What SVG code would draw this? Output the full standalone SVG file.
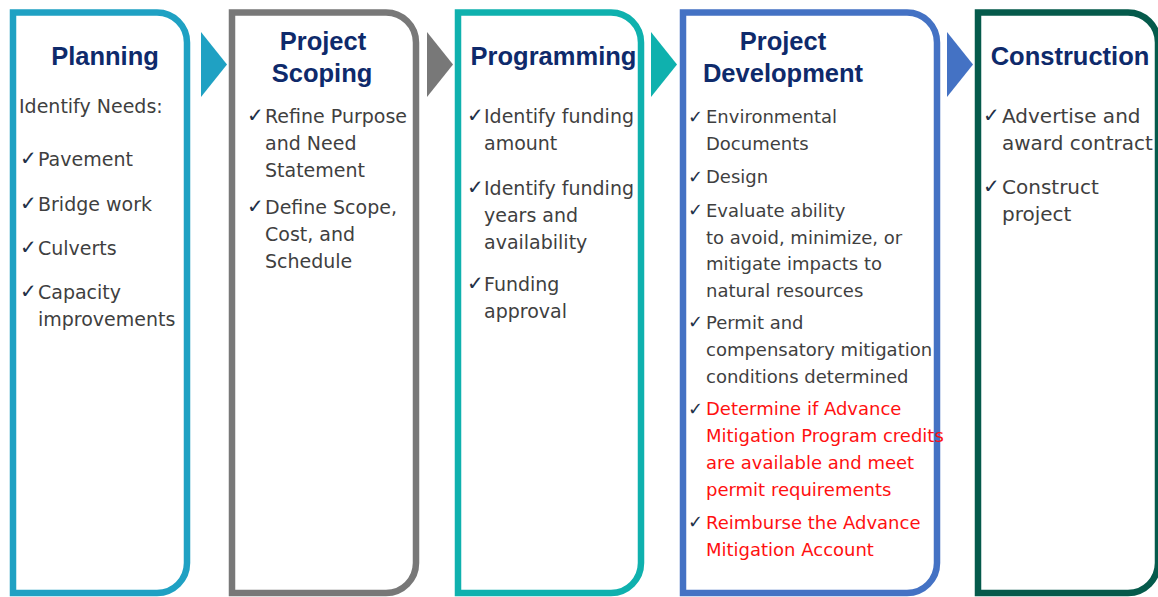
<svg xmlns="http://www.w3.org/2000/svg" width="1158" height="597" viewBox="0 0 1158 597">
<style>
.box{fill:#ffffff;stroke-width:6.5}
.title{font-family:"Liberation Sans",Arial,sans-serif;font-weight:bold;font-size:25.5px;fill:#0e2a6b;text-anchor:middle}
.body{font-family:"DejaVu Sans",sans-serif;font-size:19px;fill:#3f3f3f}
.dev{font-size:18px}
.con{font-size:20px}
.red{fill:#ff1010}
.chk{font-family:"DejaVu Sans",sans-serif;font-size:20px;fill:#223047}
.chk.dev{font-size:18px}
</style>
<rect width="1158" height="597" fill="#ffffff"/>
<g id="connectors">
<polygon points="201,32 227,64.5 201,97" fill="#1fa1c3"/>
<polygon points="427,32 453,64.5 427,97" fill="#787878"/>
<polygon points="651,32 677,64.5 651,97" fill="#0fb1ae"/>
<polygon points="947,32 973,64.5 947,97" fill="#4472c4"/>
</g>
<g id="planning">
<path class="box" stroke="#1fa1c3" d="M13,12.5 H157 A30,30 0 0 1 187,42.5 V563 A30,30 0 0 1 157,593 H13 Z"/>
<text class="title" x="105" y="65">Planning</text>
<text class="body" x="19" y="113">Identify Needs:</text>
<text class="chk" x="20" y="165">✓</text><text class="body" x="38" y="166">Pavement</text>
<text class="chk" x="20" y="210">✓</text><text class="body" x="38" y="210.5">Bridge work</text>
<text class="chk" x="20" y="254">✓</text><text class="body" x="38" y="255">Culverts</text>
<text class="chk" x="20" y="298">✓</text><text class="body" x="38" y="299">Capacity</text>
<text class="body" x="38" y="326">improvements</text>
</g>
<g id="scoping">
<path class="box" stroke="#787878" d="M232,12.5 H386 A30,30 0 0 1 416,42.5 V563 A30,30 0 0 1 386,593 H232 Z"/>
<text class="title" x="323" y="50">Project</text>
<text class="title" x="322" y="81.5">Scoping</text>
<text class="chk" x="247" y="122">✓</text><text class="body" x="265" y="122.7">Refine Purpose</text>
<text class="body" x="265" y="150">and Need</text>
<text class="body" x="265" y="176.7">Statement</text>
<text class="chk" x="247" y="213">✓</text><text class="body" x="265" y="213.5">Define Scope,</text>
<text class="body" x="265" y="240.5">Cost, and</text>
<text class="body" x="265" y="267.5">Schedule</text>
</g>
<g id="programming">
<path class="box" stroke="#0fb1ae" d="M458,12.5 H611 A30,30 0 0 1 641,42.5 V563 A30,30 0 0 1 611,593 H458 Z"/>
<text class="title" x="553.5" y="65">Programming</text>
<text class="chk" x="467" y="122">✓</text><text class="body" x="484" y="123">Identify funding</text>
<text class="body" x="484" y="150">amount</text>
<text class="chk" x="467" y="194">✓</text><text class="body" x="484" y="195">Identify funding</text>
<text class="body" x="484" y="222">years and</text>
<text class="body" x="484" y="249">availability</text>
<text class="chk" x="467" y="290">✓</text><text class="body" x="484" y="291">Funding</text>
<text class="body" x="484" y="318">approval</text>
</g>
<g id="project-development">
<path class="box" stroke="#4472c4" d="M683,12.5 H907 A30,30 0 0 1 937,42.5 V563 A30,30 0 0 1 907,593 H683 Z"/>
<text class="title" x="783" y="50">Project</text>
<text class="title" x="783" y="81.5">Development</text>
<text class="chk dev" x="688" y="122.5">✓</text><text class="body dev" x="706" y="123">Environmental</text>
<text class="body dev" x="706" y="150">Documents</text>
<text class="chk dev" x="688" y="182.5">✓</text><text class="body dev" x="706" y="183">Design</text>
<text class="chk dev" x="688" y="216">✓</text><text class="body dev" x="706" y="216.5">Evaluate ability</text>
<text class="body dev" x="706" y="243.5">to avoid, minimize, or</text>
<text class="body dev" x="706" y="270">mitigate impacts to</text>
<text class="body dev" x="706" y="296.5">natural resources</text>
<text class="chk dev" x="688" y="328">✓</text><text class="body dev" x="706" y="328.5">Permit and</text>
<text class="body dev" x="706" y="355.5">compensatory mitigation</text>
<text class="body dev" x="706" y="382.5">conditions determined</text>
<text class="chk dev" x="688" y="414.5">✓</text><text class="body dev red" x="706" y="415">Determine if Advance</text>
<text class="body dev red" x="706" y="442">Mitigation Program credits</text>
<text class="body dev red" x="706" y="469">are available and meet</text>
<text class="body dev red" x="706" y="496">permit requirements</text>
<text class="chk dev" x="688" y="528">✓</text><text class="body dev red" x="706" y="528.5">Reimburse the Advance</text>
<text class="body dev red" x="706" y="555.5">Mitigation Account</text>
</g>
<g id="construction">
<path class="box" stroke="#055a4b" d="M978,12.5 H1128 A30,30 0 0 1 1158,42.5 V563 A30,30 0 0 1 1128,593 H978 Z"/>
<text class="title" x="1070" y="65">Construction</text>
<text class="chk" x="983" y="122">✓</text><text class="body con" x="1002" y="122.7">Advertise and</text>
<text class="body con" x="1002" y="150">award contract</text>
<text class="chk" x="983" y="193">✓</text><text class="body con" x="1002" y="193.5">Construct</text>
<text class="body con" x="1002" y="221">project</text>
</g>
</svg>
